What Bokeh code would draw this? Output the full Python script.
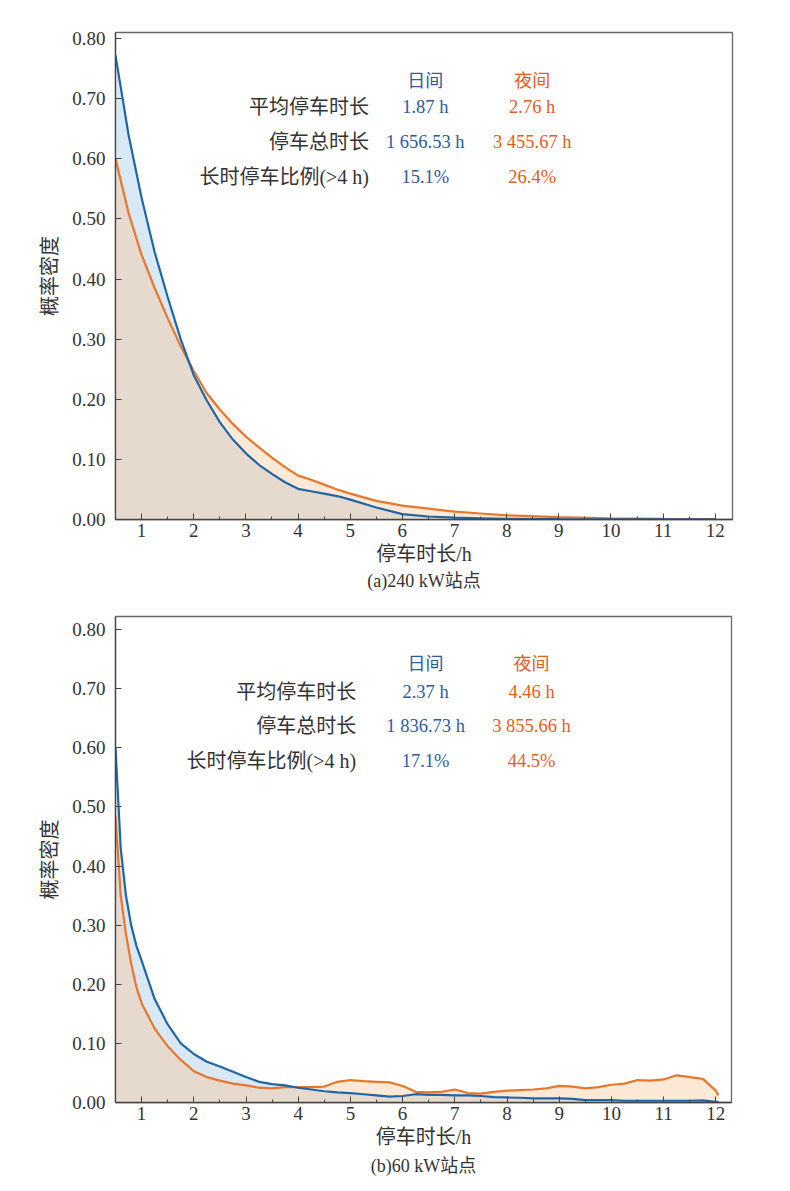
import numpy as np
from bokeh.plotting import figure
from bokeh.layouts import column
from bokeh.models import FixedTicker, Range1d, Title, NumeralTickFormatter
from bokeh.core.properties import value
from bokeh.embed import file_html
from bokeh.resources import INLINE

# ---------------- data ----------------
x_ticks = [1, 2, 3, 4, 5, 6, 7, 8, 9, 10, 11, 12]
x_minor = [0.5, 1.5, 2.5, 3.5, 4.5, 5.5, 6.5, 7.5, 8.5, 9.5, 10.5, 11.5]
y_ticks = [0.0, 0.1, 0.2, 0.3, 0.4, 0.5, 0.6, 0.7, 0.8]

top_x = [0.5, 0.75, 1.0, 1.25, 1.5, 1.75, 2.0, 2.25, 2.5, 2.75, 3.0, 3.25, 3.5, 3.75,
         4.0, 4.25, 4.5, 4.75, 5.0, 5.5, 6.0, 6.5, 7.0, 7.5, 8.0, 9.0, 10.0, 11.0, 12.0]
top_day = [0.772, 0.640, 0.535, 0.445, 0.370, 0.300, 0.240, 0.198, 0.162, 0.133, 0.110,
           0.091, 0.076, 0.062, 0.051, 0.047, 0.043, 0.039, 0.033, 0.020, 0.009, 0.005,
           0.003, 0.002, 0.001, 0.0005, 0.0003, 0.0002, 0.0001]
top_night = [0.600, 0.510, 0.440, 0.385, 0.335, 0.288, 0.247, 0.210, 0.183, 0.159, 0.138,
             0.120, 0.103, 0.087, 0.073, 0.066, 0.058, 0.050, 0.043, 0.031, 0.023, 0.018,
             0.013, 0.010, 0.007, 0.004, 0.002, 0.001, 0.0005]

bot_x = [0.5, 0.6, 0.7, 0.8, 0.9, 1.0, 1.25, 1.5, 1.75, 2.0, 2.25, 2.5, 2.75, 3.0, 3.25,
         3.5, 3.75, 4.0, 4.25, 4.5, 4.75, 5.0, 5.25, 5.5, 5.75, 6.0, 6.25, 6.5, 6.75, 7.0,
         7.25, 7.5, 7.75, 8.0, 8.25, 8.5, 8.75, 9.0, 9.25, 9.5, 9.75, 10.0, 10.25, 10.5,
         10.75, 11.0, 11.25, 11.5, 11.75, 12.0, 12.05]
bot_day = [0.600, 0.430, 0.350, 0.300, 0.265, 0.240, 0.175, 0.132, 0.100, 0.082, 0.069,
           0.061, 0.052, 0.043, 0.035, 0.031, 0.029, 0.025, 0.022, 0.019, 0.017, 0.016,
           0.014, 0.012, 0.010, 0.011, 0.014, 0.013, 0.013, 0.012, 0.012, 0.011, 0.009,
           0.0085, 0.008, 0.007, 0.007, 0.007, 0.006, 0.004, 0.004, 0.004, 0.003, 0.003,
           0.003, 0.003, 0.003, 0.003, 0.0035, 0.001, 0.0005]
bot_night = [0.484, 0.350, 0.285, 0.235, 0.195, 0.168, 0.125, 0.095, 0.072, 0.053, 0.043,
             0.037, 0.032, 0.029, 0.025, 0.024, 0.026, 0.026, 0.026, 0.027, 0.035, 0.038,
             0.036, 0.035, 0.034, 0.028, 0.018, 0.017, 0.018, 0.022, 0.016, 0.015, 0.018,
             0.020, 0.021, 0.022, 0.024, 0.028, 0.027, 0.024, 0.026, 0.030, 0.032, 0.038,
             0.037, 0.039, 0.046, 0.043, 0.040, 0.020, 0.012]

col_headers = ["日间", "夜间"]
row_labels = ["平均停车时长", "停车总时长", "长时停车比例(>4 h)"]
top_day_vals = ["1.87 h", "1 656.53 h", "15.1%"]
top_night_vals = ["2.76 h", "3 455.67 h", "26.4%"]
bot_day_vals = ["2.37 h", "1 836.73 h", "17.1%"]
bot_night_vals = ["4.46 h", "3 855.66 h", "44.5%"]
captions = ["(a)240 kW站点", "(b)60 kW站点"]
x_label = "停车时长/h"
y_label = "概率密度"

# ---------------- style ----------------
FONT = "Liberation Serif, Noto Sans CJK SC"
BLUE = "#1f66a6"
ORANGE = "#e8762b"
BLUE_TXT = "#2d5b9b"
ORANGE_TXT = "#e2601e"
FILL_BLUE = "#d9e8f5"
FILL_ORANGE = "#fde9d5"
FILL_BOTH = "#e6dace"
TXT = "#333333"


def make_plot(xs, day, night, day_vals, night_vals, caption, xr, yr, left, top, bottom,
              frame_w, frame_h, pos, cap_standoff):
    p = figure(frame_width=frame_w, frame_height=frame_h, output_backend="svg",
               toolbar_location=None, x_range=Range1d(*xr), y_range=Range1d(*yr),
               min_border_left=left, min_border_right=26, min_border_top=top,
               min_border_bottom=bottom)
    p.grid.visible = False
    p.background_fill_color = "white"
    p.outline_line_color = "#666666"
    p.outline_line_width = 1.3

    x = np.array(xs)
    d = np.array(day)
    n = np.array(night)
    lo = np.minimum(d, n)
    p.varea(x=x, y1=np.zeros_like(lo), y2=lo, fill_color=FILL_BOTH)
    p.varea(x=x, y1=lo, y2=d, fill_color=FILL_BLUE)
    p.varea(x=x, y1=lo, y2=n, fill_color=FILL_ORANGE)
    p.line(x, n, line_color=ORANGE, line_width=2.2)
    p.line(x, d, line_color=BLUE, line_width=2.2)

    # axes
    p.xaxis.ticker = FixedTicker(ticks=x_ticks, minor_ticks=x_minor)
    p.yaxis.ticker = FixedTicker(ticks=y_ticks, minor_ticks=[])
    p.yaxis.formatter = NumeralTickFormatter(format="0.00")
    for ax in (p.xaxis, p.yaxis):
        ax.major_tick_in = 6
        ax.major_tick_out = 0
        ax.minor_tick_in = 3
        ax.minor_tick_out = 0
        ax.axis_line_color = "#444444"
        ax.axis_line_width = 1.3
        ax.major_tick_line_color = "#444444"
        ax.minor_tick_line_color = "#444444"
        ax.major_label_text_font = FONT
        ax.major_label_text_font_size = "19px"
        ax.major_label_text_color = TXT
        ax.axis_label_text_font = FONT
        ax.axis_label_text_font_size = "20px"
        ax.axis_label_text_font_style = "normal"
        ax.axis_label_text_color = TXT
    p.xaxis.axis_label = x_label
    p.yaxis.axis_label = y_label
    p.xaxis.major_label_standoff = 4
    p.xaxis.axis_label_standoff = 3
    p.yaxis.major_label_standoff = 10
    p.yaxis.axis_label_standoff = 8

    # annotation table
    lab_x, day_x, night_x, y_head, rows_y = pos
    p.text(x=[day_x, night_x], y=[y_head, y_head], text=col_headers,
           text_color=[BLUE_TXT, ORANGE_TXT], text_font=value(FONT),
           text_font_size="18px", text_align="center", text_baseline="middle")
    p.text(x=[lab_x] * 3, y=rows_y, text=row_labels, text_color=TXT,
           text_font=value(FONT), text_font_size="20px", text_align="right",
           text_baseline="middle")
    p.text(x=[day_x] * 3, y=rows_y, text=day_vals, text_color=BLUE_TXT,
           text_font=value(FONT), text_font_size="18.5px", text_align="center",
           text_baseline="middle")
    p.text(x=[night_x] * 3, y=rows_y, text=night_vals, text_color=ORANGE_TXT,
           text_font=value(FONT), text_font_size="18.5px", text_align="center",
           text_baseline="middle")

    t = Title(text=caption, align="center", text_font=FONT, text_font_size="18px",
              text_font_style="normal", text_color=TXT, standoff=cap_standoff)
    p.add_layout(t, "below")
    return p


p1 = make_plot(top_x, top_day, top_night, top_day_vals, top_night_vals, captions[0],
               (0.5, 12.33), (0.0, 0.81), 110, 32, 72, 617, 487,
               (5.36, 6.44, 8.49, 0.730, [0.686, 0.6275, 0.569]), 3)
p2 = make_plot(bot_x, bot_day, bot_night, bot_day_vals, bot_night_vals, captions[1],
               (0.5, 12.3), (0.0, 0.822), 115, 24, 20, 616, 486,
               (5.11, 6.44, 8.47, 0.741, [0.695, 0.636, 0.577]), 7)

layout = column(p1, p2)
open("out.html", "w").write(file_html(layout, INLINE))
